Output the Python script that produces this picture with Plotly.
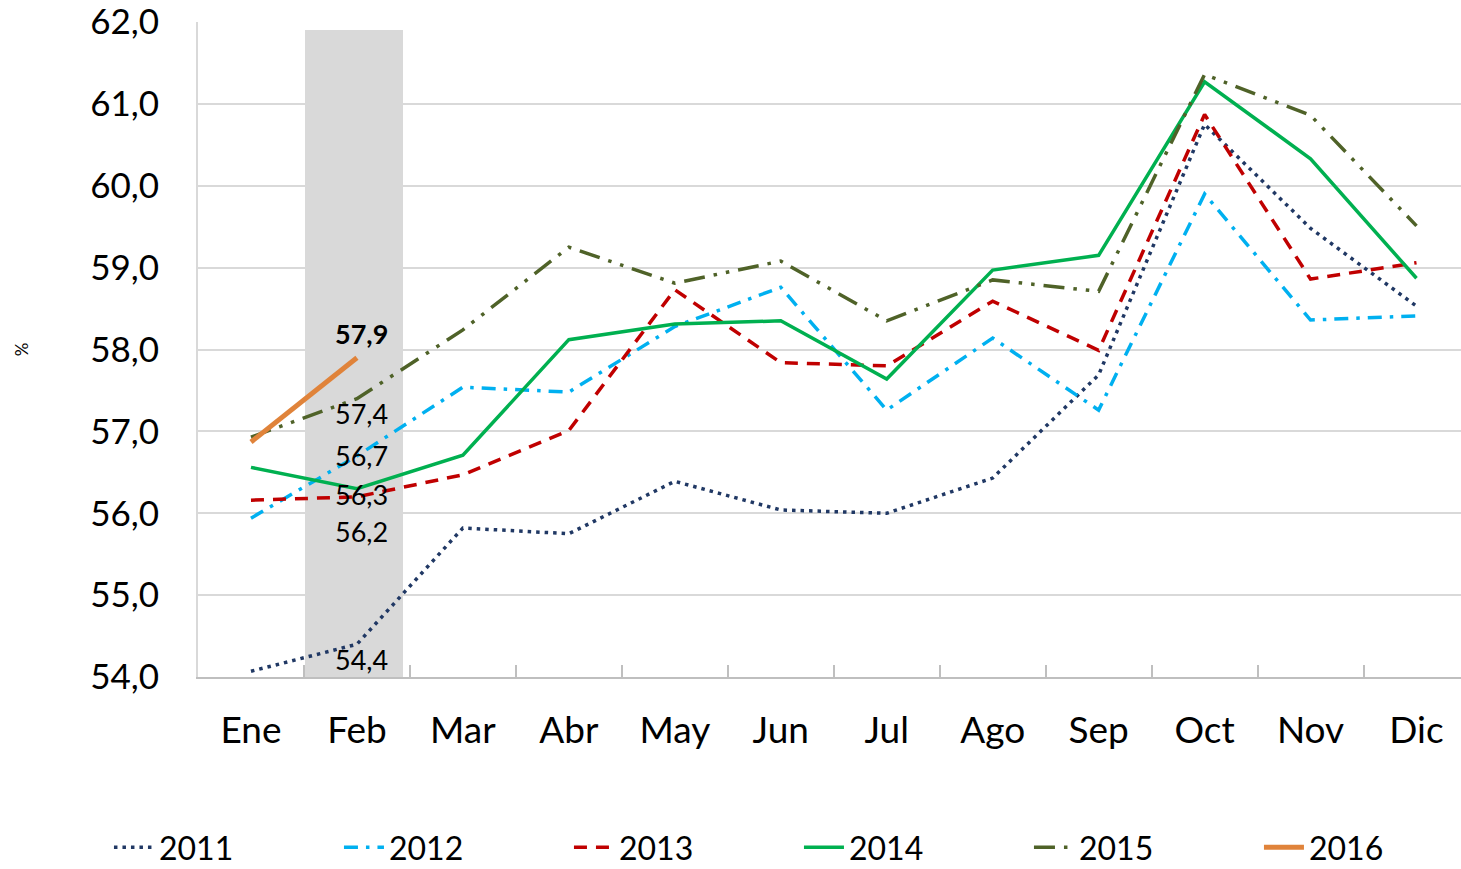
import plotly.graph_objects as go

months = ["Ene", "Feb", "Mar", "Abr", "May", "Jun", "Jul", "Ago", "Sep", "Oct", "Nov", "Dic"]

y2011 = [54.07, 54.4, 55.82, 55.75, 56.39, 56.04, 56.0, 56.43, 57.69, 60.75, 59.48, 58.53]
y2012 = [55.94, 56.7, 57.54, 57.48, 58.28, 58.76, 57.26, 58.14, 57.26, 59.90, 58.36, 58.41]
y2013 = [56.16, 56.2, 56.47, 57.01, 58.73, 57.84, 57.80, 58.59, 57.99, 60.87, 58.86, 59.06]
y2014 = [56.56, 56.3, 56.71, 58.12, 58.31, 58.35, 57.64, 58.97, 59.15, 61.27, 60.33, 58.87]
y2015 = [56.93, 57.4, 58.24, 59.25, 58.81, 59.08, 58.35, 58.85, 58.71, 61.36, 60.86, 59.51]
y2016 = [56.87, 57.9]

band_month = ["Feb"]
band_top = [61.9]

FONT = "Lato"

series = [
    ("2011", y2011, "#203864", "3.5px,5px", 3.5),
    ("2012", y2012, "#00B0F0", "14px,8px,3.5px,8px", 3.5),
    ("2013", y2013, "#C00000", "13px,9px", 3.5),
    ("2014", y2014, "#00B050", "solid", 3.5),
    ("2015", y2015, "#4F6228", "21px,9px,3.5px,9px,3.5px,9px", 3.5),
    ("2016", y2016, "#E0833A", "solid", 5),
]

fig = go.Figure()

fig.add_trace(go.Bar(
    x=band_month, y=band_top, width=0.925, offset=-0.49,
    marker=dict(color="#D9D9D9", line=dict(width=0)),
    showlegend=False, hoverinfo="skip",
))

for name, ys, color, dash, w in series:
    fig.add_trace(go.Scatter(
        x=months[:len(ys)], y=ys, name=name, mode="lines",
        line=dict(color=color, dash=dash, width=w),
    ))

# Feb data labels
labels = [
    (y2016[1], 24, True),
    (y2015[1], -15, False),
    (y2012[1], 0, False),
    (y2014[1], -6, False),
    (y2013[1], -35, False),
    (y2011[1], -15, False),
]
for val, shift, bold in labels:
    txt = f"{val:.1f}".replace(".", ",")
    fig.add_annotation(
        x="Feb", y=val, text=f"<b>{txt}</b>" if bold else txt,
        showarrow=False, xshift=5, yshift=shift,
        font=dict(family=FONT, size=27, color="#000000"),
    )

fig.update_layout(
    width=1461, height=869,
    margin=dict(l=198, r=0, t=22, b=192, autoexpand=False),
    paper_bgcolor="white", plot_bgcolor="white",
    separators=",.",
    font=dict(family=FONT, color="#000000"),
    bargap=0,
    legend=dict(
        orientation="h", x=-0.0705, xanchor="left", y=-0.2183, yanchor="top",
        font=dict(family=FONT, size=32, color="#000000"),
        entrywidth=175, entrywidthmode="pixels", itemwidth=40,
        bgcolor="rgba(0,0,0,0)",
    ),
    xaxis=dict(
        type="category", categoryorder="array", categoryarray=months,
        range=[-0.5, 11.42],
        showgrid=False, showline=True, linecolor="#BFBFBF", linewidth=2,
        ticks="inside", tickson="boundaries", ticklen=12, tickcolor="#BFBFBF", tickwidth=2,
        tickfont=dict(family=FONT, size=37, color="#000000"),
        ticklabelstandoff=20,
    ),
    yaxis=dict(
        range=[54, 62], dtick=1, tickformat=".1f",
        showgrid=True, gridcolor="#D9D9D9", gridwidth=2,
        showline=True, linecolor="#D9D9D9", linewidth=2,
        zeroline=False, ticks="",
        tickfont=dict(family=FONT, size=35, color="#000000"),
        ticklabelstandoff=30, ticklabeloverflow="allow",
        title=dict(text="%", font=dict(family=FONT, size=17, color="#000000"), standoff=57),
    ),
)

fig.write_html("out.html", config={"displayModeBar": False},
               post_script="document.body.style.margin='0';")
